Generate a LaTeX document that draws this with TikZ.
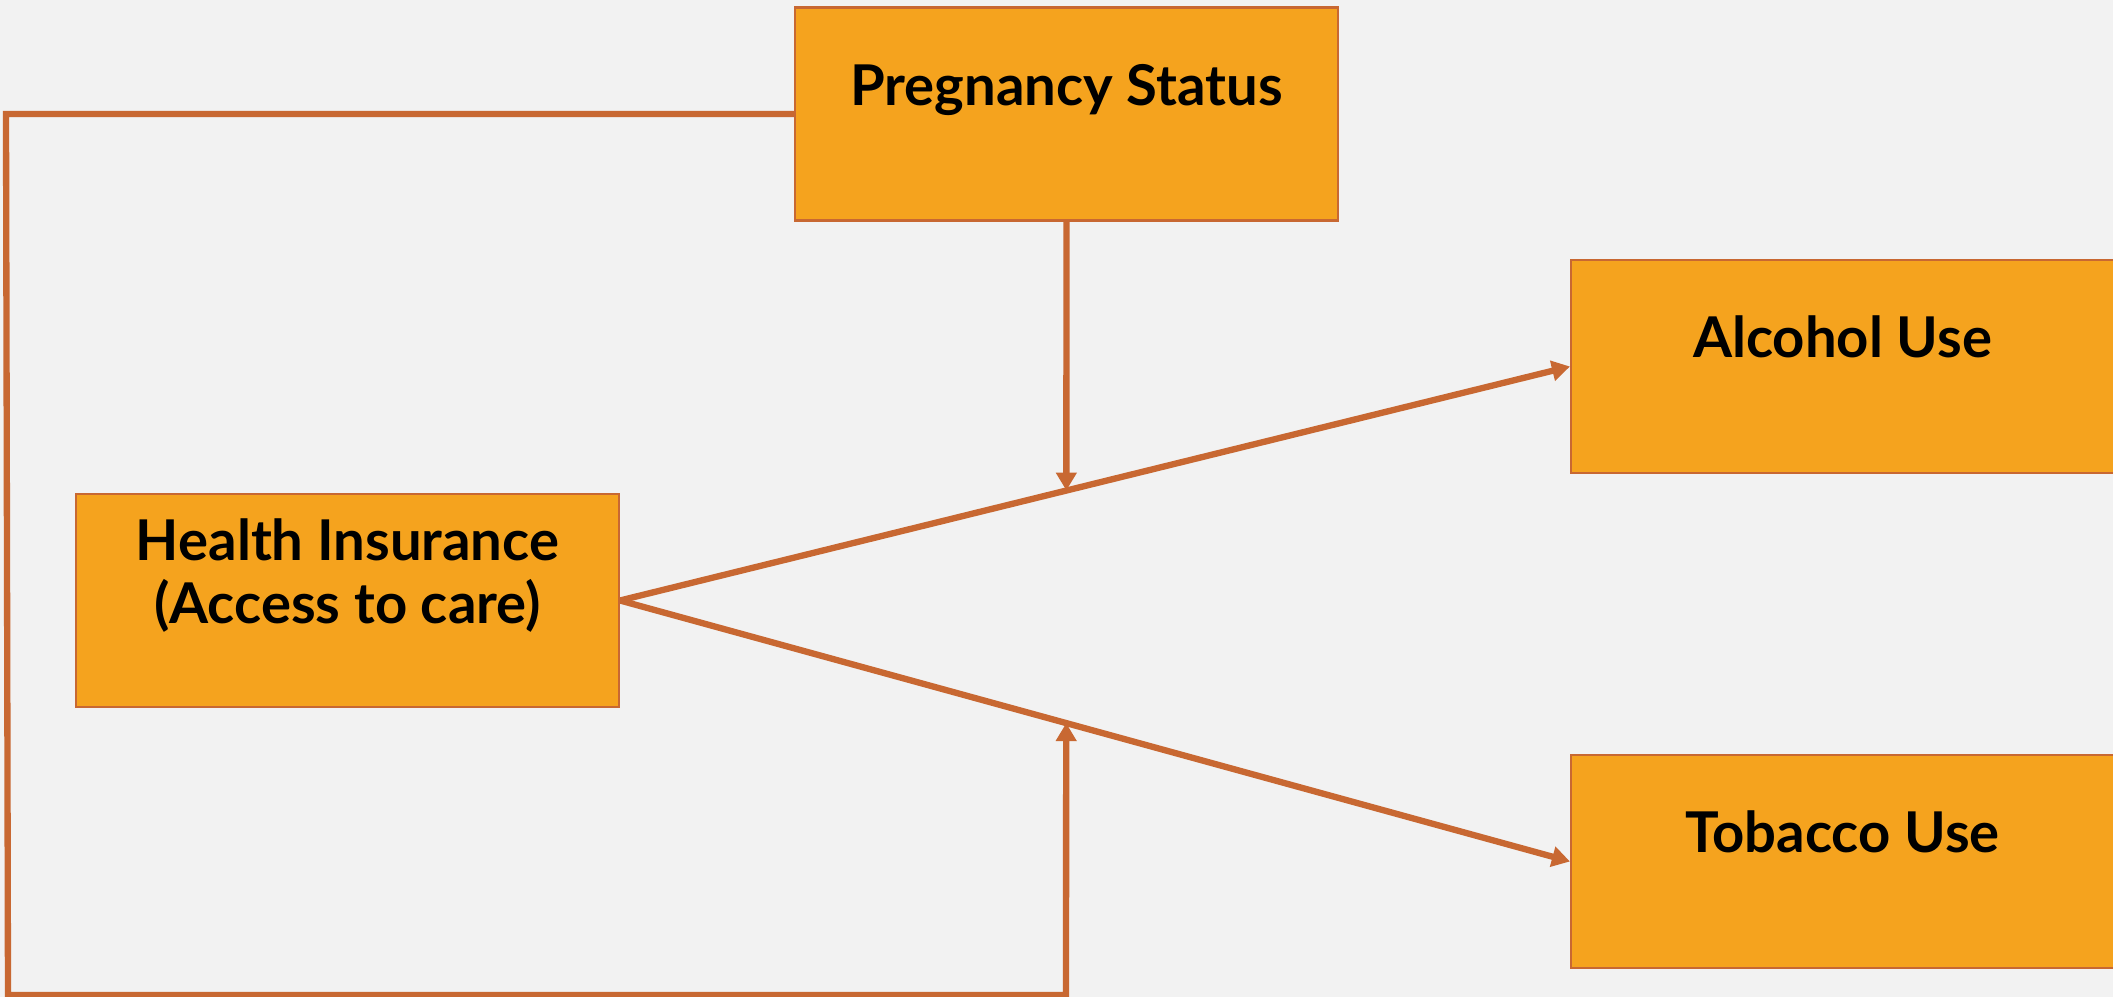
\documentclass[tikz,border=0pt]{standalone}
\usepackage{fontspec}
\setmainfont{Lato}
\usetikzlibrary{arrows.meta}
\definecolor{orangeboite}{RGB}{245,163,30}
\definecolor{trait}{RGB}{200,104,50}
\definecolor{fond}{RGB}{242,242,242}
\begin{document}
\begin{tikzpicture}[
      boite/.style={draw=trait, line width=0.6pt, fill=orangeboite, inner sep=0pt,
         minimum width=5.43cm, minimum height=2.13cm,
         font=\fontsize{16}{18}\selectfont\bfseries,
         text height=0.98cm, text depth=1.15cm},
      lien/.style={draw=trait, line width=1.8pt},
      fleche/.style={lien, -{Triangle[length=1.8mm,width=2mm]}}
   ]
         % Fond et cadre
         \useasboundingbox (0,0) rectangle (21.13,-9.97);
         \fill[fond] (0,0) rectangle (21.13,-9.97);

         % Les boites
         \node[boite] (preg) at (10.665,-1.14) {Pregnancy Status};
         \node[boite, align=center, text height=1.30cm, text depth=0.83cm] (hi) at (3.475,-6.005)
            {Health Insurance\\(Access to care)};
         \node[boite] (alc) at (18.425,-3.665) {Alcohol Use};
         \node[boite] (tob) at (18.425,-8.615) {Tobacco Use};

         % Points de la boucle a gauche
         \coordinate (hg) at (0.06,-1.14);
         \coordinate (bg) at (0.08,-9.95);
         \coordinate (bd) at (10.66,-9.95);

         % Effets directs
         \draw[fleche] (hi.east) -- (alc.west);
         \draw[fleche] (hi.east) -- (tob.west);

         % Moderation par la grossesse
         \draw[fleche] (preg.south) -- (intersection of hi.east--alc.west and preg.south--bd);
         \draw[fleche] (preg.west) -- (hg) -- (bg) -- (bd)
            -- (intersection of hi.east--tob.west and bd--preg.south);
      \end{tikzpicture}
\end{document}
